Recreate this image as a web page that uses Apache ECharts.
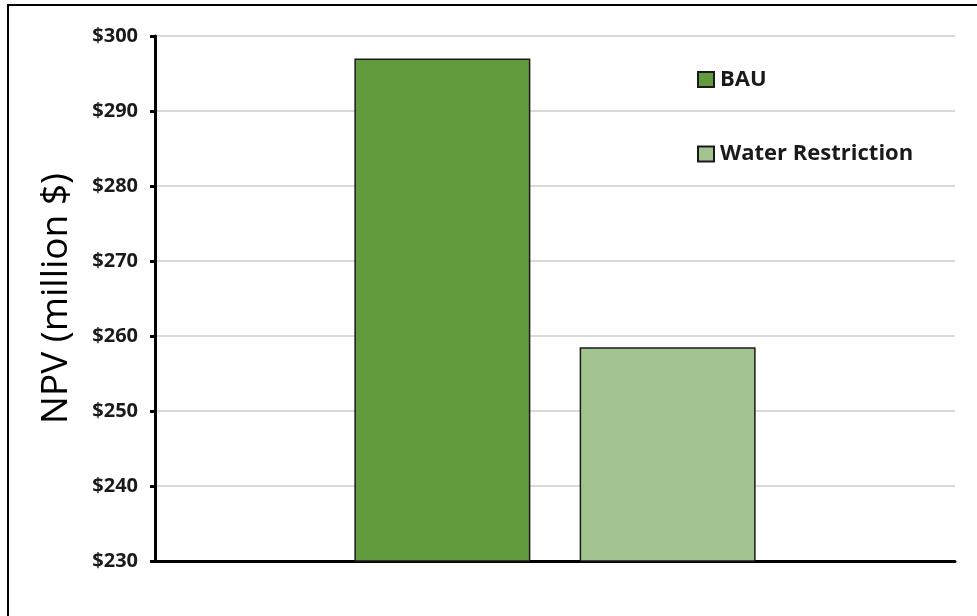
<!DOCTYPE html>
<html>
<head>
<meta charset="utf-8">
<script src="https://cdn.jsdelivr.net/npm/echarts@6/dist/echarts.min.js"></script>
<style>
  html, body { margin: 0; padding: 0; background: #fff; }
  #chart { width: 977px; height: 616px; }
</style>
</head>
<body>
<div id="chart"></div>
<script>
// NPV comparison of the two scenarios (million $)
const categories = [''];
const seriesNames = ['BAU', 'Water Restriction'];
const bauValues = [297];
const waterRestrictionValues = [258.5];
const yTicks = { min: 230, max: 300, interval: 10 };

const colors = ['#629a3e', '#a3c490'];
const labelFont = 'Open Sans';

const chart = echarts.init(document.getElementById('chart'), null, { renderer: 'canvas' });

chart.setOption({
  animation: false,
  backgroundColor: '#fff',
  graphic: [{
    type: 'rect',
    shape: { x: 8, y: 5, width: 1000, height: 700 },
    style: { fill: 'none', stroke: '#000', lineWidth: 2 },
    silent: true
  }],
  grid: { left: 155, right: 22, top: 36, bottom: 55, containLabel: false },
  legend: {
    orient: 'vertical',
    left: 697,
    top: 68.5,
    padding: 0,
    itemWidth: 16,
    itemHeight: 15,
    itemGap: 52.5,
    icon: 'rect',
    textStyle: {
      fontFamily: labelFont,
      fontWeight: 'bold',
      fontSize: 22,
      lineHeight: 22,
      color: '#1a1a1a',
      padding: [0, 0, 0, 1]
    },
    data: seriesNames
  },
  xAxis: {
    type: 'category',
    data: categories,
    axisLine: { lineStyle: { color: '#000', width: 3 } },
    axisTick: { show: false },
    axisLabel: { show: false }
  },
  yAxis: {
    type: 'value',
    min: yTicks.min,
    max: yTicks.max,
    interval: yTicks.interval,
    name: 'NPV (million $)',
    nameLocation: 'middle',
    nameGap: 80,
    nameTextStyle: { fontFamily: labelFont, fontSize: 37, color: '#000' },
    axisLine: { show: true, lineStyle: { color: '#000', width: 3 } },
    axisTick: { show: true, length: 5, lineStyle: { color: '#000', width: 3 } },
    axisLabel: {
      formatter: v => '$' + v,
      fontFamily: labelFont,
      fontWeight: 'bold',
      fontSize: 20,
      color: '#1a1a1a',
      margin: 17
    },
    splitLine: { lineStyle: { color: '#d9d9d9', width: 2 } }
  },
  series: [
    {
      name: seriesNames[0],
      type: 'bar',
      data: bauValues,
      barWidth: 176,
      barGap: '28%',
      itemStyle: { color: colors[0], borderColor: '#1a1a1a', borderWidth: 1.5 }
    },
    {
      name: seriesNames[1],
      type: 'bar',
      data: waterRestrictionValues,
      barWidth: 176,
      itemStyle: { color: colors[1], borderColor: '#1a1a1a', borderWidth: 1.5 }
    }
  ]
});
</script>
</body>
</html>
